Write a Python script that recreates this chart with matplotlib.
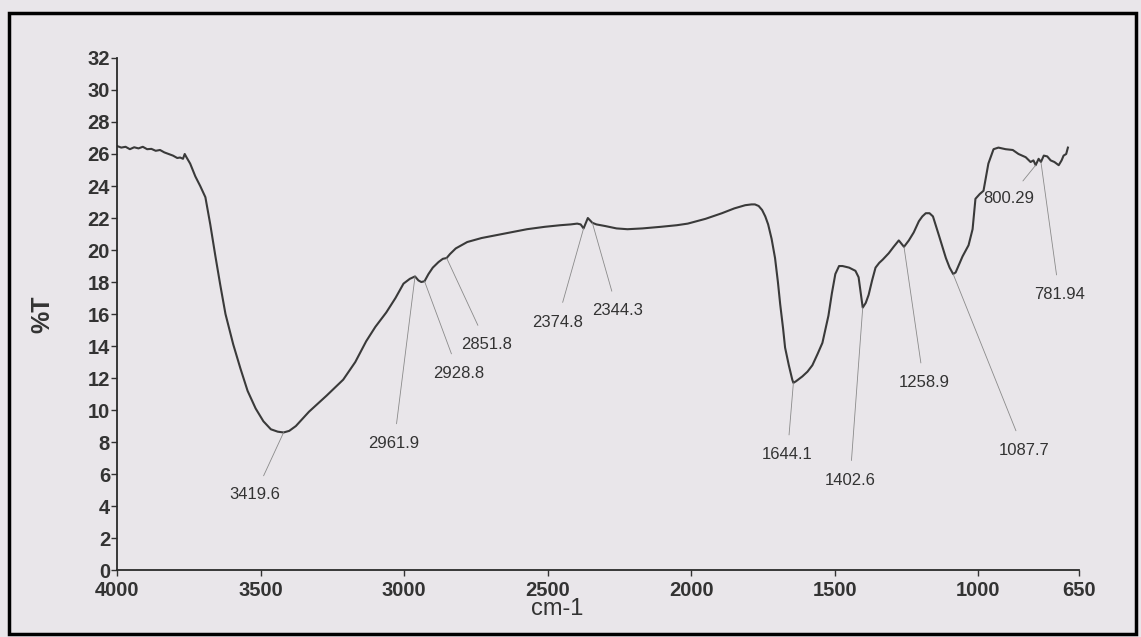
import matplotlib.pyplot as plt
from matplotlib.patches import Rectangle

# FTIR spectrum (%T vs wavenumber)
wavenumber = [4000, 3985, 3970, 3955, 3940, 3925, 3910, 3895, 3880, 3865, 3850, 3835,
              3820, 3805, 3790, 3780, 3770, 3764, 3758, 3745, 3727, 3710, 3692, 3675,
              3657, 3640, 3622, 3595, 3570, 3545, 3517, 3490, 3464, 3440, 3419.6, 3400,
              3377, 3331, 3270, 3212, 3170, 3132, 3100, 3062, 3030, 3002, 2980, 2961.9,
              2950, 2940, 2928.8, 2915, 2900, 2880, 2865, 2851.8, 2840, 2820, 2780, 2730,
              2687, 2630, 2572, 2510, 2456, 2420, 2397, 2385, 2374.8, 2360, 2344.3, 2330,
              2300, 2260, 2222, 2170, 2106, 2050, 2012, 1950, 1893, 1850, 1812, 1790,
              1778, 1765, 1753, 1742, 1732, 1720, 1708, 1698, 1690, 1680, 1673, 1660,
              1648, 1644.1, 1635, 1613, 1595, 1578, 1560, 1543, 1522, 1510, 1498, 1485,
              1473, 1450, 1428, 1417, 1402.6, 1392, 1382, 1370, 1358, 1345, 1333, 1312,
              1295, 1277, 1258.9, 1242, 1225, 1207, 1195, 1183, 1170, 1158, 1137, 1113,
              1100, 1087.7, 1079, 1067, 1055, 1034, 1020, 1010, 995, 982, 965, 947,
              930, 905, 880, 860, 835, 818, 808, 800.29, 790, 781.94, 772, 760,
              748, 735, 720, 710, 703, 694, 688]
transmittance = [26.5, 26.4, 26.45, 26.3, 26.42, 26.35, 26.45, 26.3, 26.32, 26.2, 26.25, 26.1,
                 26.0, 25.9, 25.75, 25.78, 25.7, 26.0, 25.8, 25.4, 24.6, 24.0, 23.3, 21.6,
                 19.6, 17.8, 16.0, 14.1, 12.6, 11.2, 10.1, 9.3, 8.8, 8.65, 8.6, 8.7,
                 9.0, 9.9, 10.9, 11.9, 13.0, 14.3, 15.2, 16.1, 17.0, 17.9, 18.2, 18.35,
                 18.1, 18.0, 18.05, 18.5, 18.9, 19.25, 19.45, 19.5, 19.75, 20.1, 20.5, 20.75,
                 20.9, 21.1, 21.3, 21.45, 21.55, 21.6, 21.65, 21.6, 21.35, 22.0, 21.7, 21.6,
                 21.5, 21.35, 21.3, 21.35, 21.45, 21.55, 21.65, 21.95, 22.3, 22.6, 22.8, 22.85,
                 22.85, 22.75, 22.5, 22.1, 21.6, 20.7, 19.5, 18.0, 16.6, 15.1, 13.9, 12.8,
                 11.9, 11.7, 11.8, 12.1, 12.4, 12.8, 13.5, 14.2, 15.9, 17.3, 18.5, 19.0,
                 19.0, 18.9, 18.7, 18.3, 16.4, 16.7, 17.2, 18.1, 18.9, 19.2, 19.4, 19.8,
                 20.2, 20.6, 20.2, 20.6, 21.1, 21.8, 22.1, 22.3, 22.3, 22.1, 20.9, 19.5,
                 18.9, 18.5, 18.6, 19.1, 19.6, 20.3, 21.3, 23.2, 23.5, 23.7, 25.4, 26.3,
                 26.4, 26.3, 26.25, 26.0, 25.8, 25.5, 25.6, 25.3, 25.7, 25.5, 25.9, 25.85,
                 25.6, 25.5, 25.3, 25.6, 25.9, 26.0, 26.4]

# peak labels: wavenumber, %T at peak, label text position
peak_wn = [3419.6, 2961.9, 2928.8, 2851.8, 2374.8, 2344.3, 1644.1, 1402.6, 1258.9, 1087.7, 800.29, 781.94]
peak_t = [8.6, 18.35, 18.05, 19.5, 21.35, 21.7, 11.7, 16.4, 20.2, 18.5, 25.3, 25.5]
peak_text = ['3419.6', '2961.9', '2928.8', '2851.8', '2374.8', '2344.3',
             '1644.1', '1402.6', '1258.9', '1087.7', '800.29', '781.94']
label_x = [3520, 3035, 2810, 2712, 2467, 2257, 1665, 1447, 1190, 842, 895, 718]
label_y = [4.7, 7.9, 12.3, 14.1, 15.5, 16.2, 7.2, 5.6, 11.7, 7.5, 23.2, 17.2]

paper = '#e9e6ea'
ink = '#333333'
font = ['Liberation Sans', 'DejaVu Sans']

fig = plt.figure(figsize=(11.41, 6.37), dpi=100, facecolor=paper)
ax = fig.add_axes([0.1025, 0.105, 0.843, 0.804])
ax.set_facecolor(paper)

ax.plot(wavenumber, transmittance, color='#3a3a3a', lw=1.5)

for wn, t, txt, lx, ly in zip(peak_wn, peak_t, peak_text, label_x, label_y):
    ax.annotate(txt, xy=(wn, t), xytext=(lx, ly),
                ha='center', va='center', fontsize=12, family=font, color=ink,
                arrowprops=dict(arrowstyle='-', color='#8a8a8a', lw=0.6,
                                shrinkA=7, shrinkB=0))

ax.set_xlim(4000, 650)
ax.set_ylim(0, 32)
ax.set_xticks([4000, 3500, 3000, 2500, 2000, 1500, 1000, 650])
ax.set_yticks(range(0, 33, 2))
ax.tick_params(axis='both', direction='out', length=4, width=1, colors=ink,
               labelsize=14.5)
ax.tick_params(axis='y', pad=1)
ax.tick_params(axis='x', pad=4)
for lab in ax.get_xticklabels() + ax.get_yticklabels():
    lab.set_family(font)
    lab.set_fontweight('bold')

for side in ['top', 'right']:
    ax.spines[side].set_visible(False)
for side in ['left', 'bottom']:
    ax.spines[side].set_color('#2a2a2a')
    ax.spines[side].set_linewidth(1.3)

ax.set_xlabel('cm-1', fontsize=17, family=font, color=ink)
ax.xaxis.set_label_coords(0.458, -0.055)
ax.set_ylabel('%T', fontsize=18, family=font, fontweight='bold', color=ink, labelpad=24)

# black frame around the picture
fig.patches.append(Rectangle((0.008, 0.005), 0.988, 0.975, transform=fig.transFigure,
                             fill=False, edgecolor='black', lw=2.5))

fig.savefig('out.png', dpi=100, facecolor=paper)
